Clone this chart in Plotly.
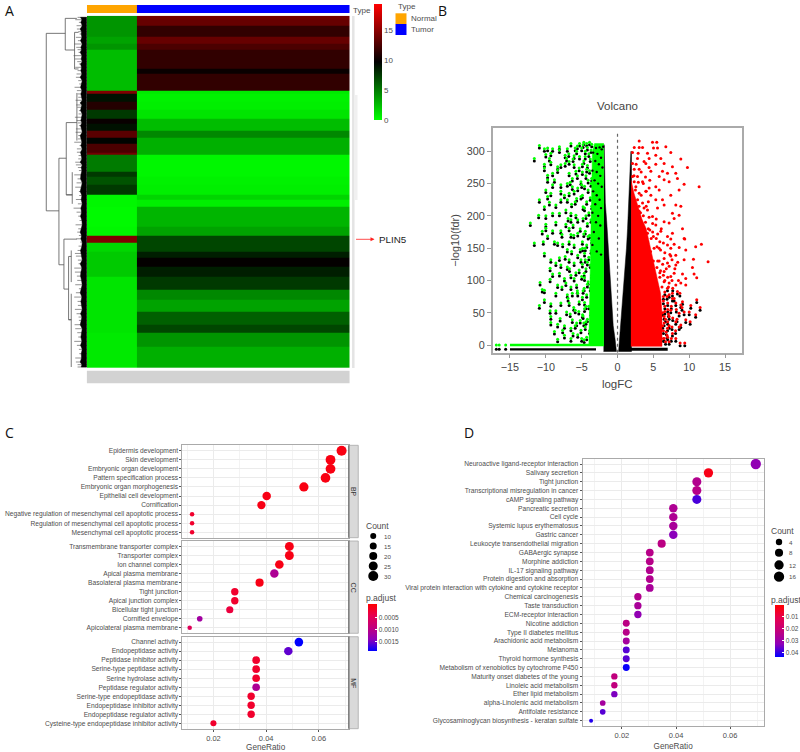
import plotly.graph_objects as go

FONT = "Liberation Sans"
W, H = 800, 752

# ---------- Panel A data: expression bands (row rank edges, mean level per group) ----------
row_edges = [0,13,31,63,83,103,128,158,173,198,225,233,258,283,308,323,345,365,383,411,418,468,483,508,538,553,573,633,660,681,708,728,753,783,823,853,888,928,953,993,1028,1058]
normal_level = [4,4,4,3.5,4,2.5,2.5,2.5,2.5,2.5,14.5,9,11,7.5,10,9,13,9.5,12.5,14,5,7.5,6.5,7.5,0.3,0.3,0.2,0.3,14.5,1.5,2,2,2,1,1,1,1,1,0.8,0.8,0.8]
tumor_level = [14,13.5,11.5,13.5,12.5,11.5,11.5,10,11.5,11.5,0.8,0.5,0.6,1,2.5,2.5,4.5,3,3,3,0.3,0.3,0.5,0.6,1.6,0.6,2.8,3.5,7,7,8.5,9.8,8.5,7.5,4.5,3.5,6,7,4,3,3]
sample_edges = [0, 50, 263]
heat_ticks = [0, 5, 10, 15]

# Dendrogram merges: (height_from, height_to, row_from, row_to)
dendro_h0 = [122,122,65,65,65,37,37,37,122,84,84,62,62,62,30,62,44,84,69,69,69,55,55,55,47,55,47]
dendro_h1 = [122,65,65,30,37,37,25,25,84,84,62,62,30,44,30,44,44,69,69,30,55,55,47,47,47,47,47]
dendro_r0 = [53,53,8,8,103,50,50,160,586,428,428,321,321,538,232,538,470,748,671,671,821,723,723,913,705,913,835]
dendro_r1 = [586,53,103,8,103,160,50,160,586,748,428,538,321,538,375,538,565,748,821,671,821,913,723,913,800,913,1055]
twig_rows = [5,12,20,30,40,48,55,65,75,85,95,102,110,120,130,138,145,155,165,175,185,195,205,215,225,235,245,254,262,268,275,285,295,305,315,322,330,340,350,360,370,380,390,400,410,420,430,440,448,456,465,478,490,502,515,528,540,552,565,578,590,602,615,628,640,650,660,670,680,692,705,714,722,734,745,758,770,782,795,808,820,832,845,858,870,882,895,905,915,928,940,952,965,978,990,1002,1015,1028,1040,1048,1055]
twig_heights = [28,35,24,31,30,26,22,33,27,38,32,28,25,40,36,29,24,35,28,31,33,26,23,37,30,28,26,34,21,32,29,24,25,36,31,27,24,33,34,26,27,38,22,30,30,25,26,35,33,27,24,38,28,31,35,24,23,33,27,40,31,26,22,34,26,29,24,32,20,25,28,36,33,27,25,38,36,30,29,35,24,33,38,28,27,36,31,25,24,37,35,29,26,38,30,24,23,35,33,28,28]
fan_heights = [19,15,18,14,20,16,17,15,19,14,18,16,20,15,17,14,19,16,18,15,20,14,17,19,15,18,16,14,20,15,17,19,14,16,18,15,19,16,14,20,17,15,18,14,19,16,15,20,14,17,15,18,19,14,16,20,15,17,14,18,16,19,15,14,17,20,16,18,14,15,19,17,16,14,20,15,18,19,16,14,17,20,15,18,16,14,19,15,17,20,14,16,18,15,19,14,17,16,20,15,17]

# ---------- Panel B data: volcano ----------
down_fc = [-10.9,-10.2,-9.75,-9.05,-8.1,-7.0,-6.5,-5.9,-11.6,-10.0,-9.3,-8.1,-7.3,-7.1,-6.05,-5.7,-9.5,-10.2,-9.3,-8.35,-7.9,-7.3,-6.75,-6.05,-10.2,-9.75,-9.05,-8.35,-6.75,-6.3,-5.8,-5.35,-9.75,-8.8,-9.05,-7.9,-7.0,-6.3,-5.55,-5.1,-10.0,-9.75,-9.3,-7.9,-7.4,-6.75,-6.05,-10.9,-9.5,-8.6,-7.9,-7.0,-5.7,-5.1,-10.2,-11.0,-10.0,-9.05,-8.1,-7.2,-6.5,-5.8,-12.16,-10.0,-8.6,-7.2,-6.5,-5.55,-10.0,-10.5,-9.05,-7.9,-6.75,-9.75,-7.75,-6.5,-5.55,
-11.6,-10.35,-8.8,-8.35,-7.65,-6.75,-6.05,-10.2,-9.3,-8.1,-7.3,-6.75,-5.55,-4.87,-9.4,-8.6,-7.9,-7.0,-6.05,-5.1,-9.05,-8.1,-6.5,-5.35,-9.4,-7.4,-6.05,-4.65,-10.8,-8.35,-7.2,-5.7,-10.5,-10.2,-7.75,-6.5,-4.65,-8.6,-7.0,-5.55,-10.2,-10.9,-9.3,-7.9,-6.75,-5.35,-9.4,-8.6,-7.1,-5.9,-4.4,-9.3,-8.0,-6.3,-4.87,-9.3,-8.35,-7.4,-5.7,-4.4,-8.8,-7.65,-6.5,-5.1,-8.35,-7.4,-5.55,-4.65,-6.5,
-4.8,-4.3,-3.9,-3.6,-4.5,-4.0,-3.7,-4.7,-4.2,-3.8,-4.9,-4.4,-3.9,-3.6,-4.6,-4.1,-3.7,-4.9,-4.3,-3.8,-4.6,-4.0,-3.6,-4.8,-4.2,-3.7,-4.5,-3.9,-4.9,-4.3,-3.6,-4.6,-4.0,-3.7,-4.9,-4.4,-3.8,-4.6,-4.1,-3.6,-4.8,-4.3,-3.8,-4.6,-4.0,-3.6,-4.8,-4.2,-3.7,-4.5,-3.9,-3.5,-4.3,-3.7,
-6.8,-6.2,-5.3,-4.9,-5.6,-6.6,-5.0,-5.9,-6.4,-4.8,-6.9,-6.2,-5.2,-4.7,-6.1,-7.0,-6.4,-5.2,-4.5,-6.7,-5.8,-5.0,-6.3,-5.6,-4.9,-6.9,-6.1,-5.4,-4.6,-6.6,-5.9,-5.2,-4.7,-6.2,-5.0,-4.2,-4.5,-4.2,-4.1,-4.4,-4.1,-4.3,-4.5,-4.2,-5.0,-5.3,-5.6,-4.7]
down_fdr = [309,304,305,304,307,304,312,305,289,295,297,302,294,289,293,300,289,280,283,276,279,281,284,279,274,263,266,271,266,258,269,274,256,256,248,248,250,245,243,253,240,230,235,238,232,235,238,225,221,217,225,225,227,230,214,201,200,204,204,209,204,201,189,187,190,187,194,194,181,176,177,177,181,169,171,171,173,
158,160,160,158,156,160,155,142,132,135,137,132,139,150,119,127,124,121,127,132,110,111,108,116,102,103,103,111,97,93,96,93,86,85,90,90,88,80,78,80,70,61,64,65,65,67,53,53,51,54,60,44,41,39,47,35,32,30,34,36,21,23,26,23,9,15,16,8,10,
310,312,314,311,300,296,302,285,278,288,268,262,270,258,246,240,250,232,222,228,212,205,215,196,188,194,176,170,160,155,162,142,136,146,125,118,124,104,98,108,84,78,88,66,60,70,45,40,50,28,22,32,12,8,
296,288,292,280,262,252,248,222,218,214,196,186,180,172,170,148,145,148,132,118,112,106,80,84,74,72,58,52,56,48,30,38,34,18,10,94,150,128,168,200,255,272,292,306,305,312,308,314]
speck_fc = [-3.0,-2.5,-2.2,-2.0,-3.4,-2.8,-2.3,-3.1,-2.6,-2.1,-3.5,-2.9,-2.4,-3.2,-2.7,-2.2,-3.4,-2.9,-2.5,-3.1,-2.3,-3.5,-2.7,-3.0,-2.4,-3.3,-2.6,-3.5,-2.9,-2.3]
speck_fdr = [305,306,303,307,298,296,290,285,280,275,270,268,262,255,250,245,238,232,225,218,212,205,200,190,185,175,165,155,145,140]
up_fc = [3.02,4.88,5.48,2.33,3.02,3.49,5.02,5.58,6.74,2.09,2.88,4.18,5.34,7.43,2.79,4.41,6.04,8.83,2.09,3.95,5.34,6.5,9.75,7.66,2.33,3.02,4.65,6.27,6.97,2.09,2.79,5.81,8.13,8.36,2.33,3.49,6.5,9.29,11.38,2.56,4.41,5.34,7.2,8.59,3.02,3.95,5.81,7.43,2.09,4.65,5.34,6.27,2.33,3.49,6.5,8.13,8.83,3.02,4.18,5.58,7.66,8.59,2.56,4.88,6.5,7.9,9.06,3.49,5.34,7.2,9.29,6.04,7.66,4.18,2.33,6.97,
9.38,11.7,10.9,8.6,7.9,7.43,6.97,9.52,7.43,12.63,10.59,8.13,9.29,7.43,6.5,10.45,8.13,6.97,9.06,10.68,11.05,7.9,6.5,9.52,7.43,8.83,8.13,9.52,7.2,11.05,9.06,8.36,7.66,6.97,10.22,8.83,11.52,8.13,7.66,10.0,9.29,10.9,8.59,7.43,10.13,9.52,8.83,8.13,7.2,9.38,8.73,8.13,7.66,6.97,6.5,6.5,7.2,
5.0,5.5,4.6,4.2,3.8,3.2,2.8,5.9,6.2,6.4,6.6,6.3,6.7,6.3,6.8,6.4,5.6,6.0,5.1,4.7,4.3,6.6,6.9,7.0,7.2,7.0,5.8,5.4,4.9,3.6,3.0,4.0,
7.3,6.6,6.0,5.5,5.9,6.4,5.0,5.6,6.1,4.5,4.9,5.4,3.9,4.4,3.2,3.7,4.3,2.8,3.3,4.0,2.5,2.9,3.6,4.5,2.3,3.3,3.9,2.6,3.7,4.4,
6.3,6.8,7.2,5.8,6.4,7.0,7.6,5.9,6.5,7.1,7.7,6.6,7.2,7.9,6.4,7.0,7.5,8.2,6.6,7.1,7.7,8.3,6.5,7.0,7.6,8.1,6.4,6.9,7.5,6.7,8.6,9.0,8.7,8.5,8.0,7.6,8.4]
up_fdr = [316,314,314,306,306,306,305,305,307,298,297,297,294,298,289,289,289,288,281,281,280,281,275,276,272,272,269,269,266,261,261,261,266,258,253,253,256,249,245,245,243,245,253,240,235,238,240,232,230,232,225,225,217,220,217,217,215,207,209,212,204,201,199,199,191,196,180,186,186,189,165,176,173,173,181,168,
164,156,152,151,156,164,155,147,150,129,133,139,132,138,134,120,124,127,110,110,104,111,114,103,106,96,93,93,96,70,67,83,80,88,61,62,58,65,72,51,51,47,49,54,36,39,31,36,44,3,3,10,18,26,34,10,5,
130,120,145,160,175,185,200,105,90,75,60,50,40,30,20,10,130,115,150,165,180,100,75,55,30,12,150,165,175,200,215,215,
140,143,147,152,160,158,168,172,180,178,188,195,190,198,205,212,222,225,232,238,240,252,250,255,262,268,260,280,284,275,
125,118,122,130,108,105,100,112,98,90,88,82,78,72,68,65,60,55,52,48,42,40,44,36,28,22,22,15,10,5,28,58,80,100,118,132,128]
# outlines of the zones too dense to separate points
down_zone_fc = [-1.9,-4.0,-3.9,-3.8,-3.7,-3.5,-3.2,-1.9]
down_zone_fdr = [0,0,60,120,200,300,312,312]
up_zone_fc = [1.86,6.2,6.2,6.0,5.6,5.2,4.8,4.4,4.0,3.4,2.8,2.3,1.9]
up_zone_fdr = [-2,-2,50,80,100,120,145,165,180,195,215,235,255]
ns_left_fc = [-1.95,-1.85,-1.8,-1.75,-1.7,-1.5,-1.35,-1.15,-1.0,-0.8,-0.6,-0.35,-0.15,-1.95]
ns_left_fdr = [310,310,280,250,220,190,160,125,90,55,30,10,-10,-10]
ns_right_fc = [1.86,1.8,1.7,1.55,1.4,1.25,1.0,0.7,0.5,0.3,0.15,1.95,1.95]
ns_right_fdr = [300,280,250,220,180,150,110,70,40,10,-10,-10,300]
floor_down_fc = [-16.9,-16.5,-15.6]
floor_ns_y = -6.7
floor_sig_y = 0
floor_span_down = [-15, -1.9]
floor_span_ns = [-15, -3]
floor_span_up = [1.86, 7]

# ---------- Panel C data ----------
bp_terms = ["Epidermis development","Skin development","Embryonic organ development","Pattern specification process","Embryonic organ morphogenesis","Epithelial cell development","Cornification","Negative regulation of mesenchymal cell apoptotic process","Regulation of mesenchymal cell apoptotic process","Mesenchymal cell apoptotic process"]
bp_ratio = [0.0686,0.0644,0.0644,0.0625,0.0543,0.0402,0.0382,0.0119,0.0119,0.0119]
bp_count = [30,28,28,27,24,18,17,5,5,5]
bp_padj = [0.00003,0.00003,0.00003,0.00003,0.00003,0.00005,0.00005,0.0002,0.0002,0.0002]
cc_terms = ["Transmembrane transporter complex","Transporter complex","Ion channel complex","Apical plasma membrane","Basolateral plasma membrane","Tight junction","Apical junction complex","Bicellular tight junction","Cornified envelope","Apicolateral plasma membrane"]
cc_ratio = [0.0488,0.0488,0.045,0.0431,0.0375,0.0281,0.0281,0.0262,0.0148,0.011]
cc_count = [21,21,19,18,16,12,12,11,6,5]
cc_padj = [0.00005,0.00005,0.00005,0.0011,0.00005,0.0002,0.0002,0.0003,0.0012,0.0005]
mf_terms = ["Channel activity","Endopeptidase activity","Peptidase inhibitor activity","Serine-type peptidase activity","Serine hydrolase activity","Peptidase regulator activity","Serine-type endopeptidase activity","Endopeptidase inhibitor activity","Endopeptidase regulator activity","Cysteine-type endopeptidase inhibitor activity"]
mf_ratio = [0.0524,0.0484,0.0362,0.0362,0.0362,0.0362,0.0343,0.0343,0.0343,0.02]
mf_count = [19,18,13,13,13,13,12,12,12,7]
mf_padj = [0.00188,0.00155,0.0002,0.0002,0.0002,0.0011,0.0002,0.0002,0.0002,0.0002]
c_count_legend = [10,15,20,25,30]
c_padj_ticks = [0.0005,0.0010,0.0015]
c_padj_labels = ["0.0005","0.0010","0.0015"]

# ---------- Panel D data ----------
kegg_terms = ["Neuroactive ligand-receptor interaction","Salivary secretion","Tight junction","Transcriptional misregulation in cancer","cAMP signaling pathway","Pancreatic secretion","Cell cycle","Systemic lupus erythematosus","Gastric cancer","Leukocyte transendothelial migration","GABAergic synapse","Morphine addiction","IL-17 signaling pathway","Protein digestion and absorption","Viral protein interaction with cytokine and cytokine receptor","Chemical carcinogenesis","Taste transduction","ECM-receptor interaction","Nicotine addiction","Type II diabetes mellitus","Arachidonic acid metabolism","Melanoma","Thyroid hormone synthesis","Metabolism of xenobiotics by cytochrome P450","Maturity onset diabetes of the young","Linoleic acid metabolism","Ether lipid metabolism","alpha-Linolenic acid metabolism","Antifolate resistance","Glycosaminoglycan biosynthesis - keratan sulfate"]
kegg_ratio = [0.0695,0.052,0.0477,0.0477,0.0477,0.039,0.039,0.039,0.039,0.0347,0.0303,0.0303,0.0303,0.0303,0.0303,0.0259,0.0259,0.0259,0.0216,0.0216,0.0216,0.0216,0.0216,0.0216,0.0172,0.0172,0.0172,0.0129,0.0129,0.0086]
kegg_count = [16,12,11,11,11,9,9,9,9,8,7,7,7,7,7,6,6,6,5,5,5,5,5,5,4,4,4,3,3,2]
kegg_padj = [0.032,0.003,0.025,0.024,0.038,0.026,0.026,0.027,0.033,0.023,0.024,0.024,0.025,0.025,0.027,0.025,0.027,0.032,0.023,0.024,0.028,0.037,0.037,0.043,0.022,0.022,0.034,0.028,0.037,0.041]
d_count_legend = [4,8,12,16]
d_padj_ticks = [0.01,0.02,0.03,0.04]
d_padj_labels = ["0.01","0.02","0.03","0.04"]

# ---------- Helpers ----------
def dx(a, b): return [a / W, b / W]
def dy(top, bot): return [1 - bot / H, 1 - top / H]
def px(x): return x / W
def py(y): return 1 - y / H
def neg(v): return [-a for a in v]

TXT = "#4d4d4d"
# colour bars run small-at-top in the reference, so p.adjust is drawn on a negated scale
BLUE_RED = [[0,"#0000ff"],[0.25,"#8f00b8"],[0.5,"#c1007c"],[0.75,"#e6004f"],[1,"#ff0000"]]
annotations, shapes = [], []

def label(text, x, y, size, xanchor="left", color=TXT, angle=0, font=FONT):
    annotations.append(dict(text=text, x=px(x), y=py(y), xref="paper", yref="paper", showarrow=False,
                            xanchor=xanchor, yanchor="middle", textangle=angle,
                            font=dict(family=font, size=size, color=color)))

def rect(x0, y0, x1, y1, fill, line=None, w=0, layer="above"):
    shapes.append(dict(type="rect", xref="paper", yref="paper", x0=px(x0), x1=px(x1), y0=py(y0), y1=py(y1),
                       fillcolor=fill, line=dict(color=line or fill, width=w), layer=layer))

def hline(x0, y0, x1, y1, color, w):
    shapes.append(dict(type="line", xref="paper", yref="paper", x0=px(x0), x1=px(x1), y0=py(y0), y1=py(y1),
                       line=dict(color=color, width=w), layer="above"))

def dot(x, y, d):
    shapes.append(dict(type="circle", xref="paper", yref="paper", xsizemode="pixel", ysizemode="pixel",
                       xanchor=px(x), yanchor=py(y), x0=-d/2, x1=d/2, y0=-d/2, y1=d/2,
                       fillcolor="black", line=dict(width=0), layer="above"))

def size_c(c): return 4.5 + 5.5 * ((c - 5) / 25) ** 0.5
def size_d(c): return 4.0 + 6.3 * ((c - 2) / 14) ** 0.5

fig = go.Figure()

# ---------- Panel A ----------
fig.add_trace(go.Heatmap(
    x=sample_edges, y=row_edges, z=[[n, t] for n, t in zip(normal_level, tumor_level)],
    xaxis="x", yaxis="y", zmin=0, zmax=19.3,
    colorscale=[[0,"#00ff00"],[0.5,"#000000"],[1,"#ff0000"]],
    colorbar=dict(x=px(374), xanchor="left", xpad=0, y=py(4.3), yanchor="top", ypad=0,
                  lenmode="pixels", len=116, thickness=8, thicknessmode="pixels", outlinewidth=0,
                  tickvals=heat_ticks, ticks="", tickfont=dict(family=FONT, size=8, color=TXT)),
    hoverinfo="skip"))
fig.add_trace(go.Heatmap(x=sample_edges, y=[0, 1], z=[[0, 1]], xaxis="x2", yaxis="y2", showscale=False,
                         colorscale=[[0,"#FFA500"],[1,"#0000FF"]], hoverinfo="skip"))

fan_x, fan_y = [], []
for r, h in zip(twig_rows, twig_heights):
    fan_x += [0, h, None]; fan_y += [r, r, None]
fig.add_trace(go.Scatter(x=fan_x, y=fan_y, mode="lines", line=dict(color="#666666", width=0.7),
                         xaxis="x3", yaxis="y3", hoverinfo="skip", showlegend=False))
fig.add_trace(go.Scatter(x=[0] + fan_heights + [0], y=[twig_rows[0]] + twig_rows + [twig_rows[-1]],
                         mode="lines", fill="toself", fillcolor="black", line=dict(color="black", width=0.5),
                         xaxis="x3", yaxis="y3", hoverinfo="skip", showlegend=False))
seg_x, seg_y = [], []
for h0, h1, r0, r1 in zip(dendro_h0, dendro_h1, dendro_r0, dendro_r1):
    seg_x += [h0, h1, None]; seg_y += [r0, r1, None]
fig.add_trace(go.Scatter(x=seg_x, y=seg_y, mode="lines", line=dict(color="#555555", width=0.8),
                         xaxis="x3", yaxis="y3", hoverinfo="skip", showlegend=False))

# ---------- Panel B ----------
def poly(x, y, color):
    fig.add_trace(go.Scatter(x=x, y=y, mode="lines", fill="toself", fillcolor=color, line=dict(width=0.5, color=color),
                             xaxis="x4", yaxis="y4", hoverinfo="skip", showlegend=False))
def pts(x, y, color, s=3.0):
    fig.add_trace(go.Scatter(x=x, y=y, mode="markers", marker=dict(color=color, size=s, line=dict(width=0)),
                             xaxis="x4", yaxis="y4", hoverinfo="skip", showlegend=False))
def stroke(x, y, color, w, dash="solid"):
    fig.add_trace(go.Scatter(x=x, y=y, mode="lines", line=dict(color=color, width=w, dash=dash),
                             xaxis="x4", yaxis="y4", hoverinfo="skip", showlegend=False))

stroke([0, 0], [-12, 330], "#666666", 1.2, "3px,3px")
poly(ns_left_fc, ns_left_fdr, "black")
poly(ns_right_fc, ns_right_fdr, "black")
stroke(floor_span_ns, [floor_ns_y, floor_ns_y], "black", 2.2)
stroke(floor_span_up, [floor_ns_y, floor_ns_y], "black", 3)
pts(floor_down_fc, [floor_ns_y] * 3, "black")
pts(floor_down_fc, [floor_sig_y] * 3, "#00ff00")
pts(down_fc, [v - 4 for v in down_fdr], "black")
poly(down_zone_fc, down_zone_fdr, "#00ff00")
stroke(floor_span_down, [floor_sig_y, floor_sig_y], "#00ff00", 2.5)
pts(down_fc, down_fdr, "#00ff00")
pts(speck_fc, speck_fdr, "black", 2.4)
low_fc = [a for a, b in zip(up_fc, up_fdr) if b < 90]
low_fdr = [b - 4 for b in up_fdr if b < 90]
pts(low_fc, low_fdr, "black")
poly(up_zone_fc, up_zone_fdr, "#ff0000")
pts(up_fc, up_fdr, "#ff0000")

# ---------- Panel C ----------
for i, (terms, ratio, count, padj) in enumerate([(bp_terms,bp_ratio,bp_count,bp_padj),(cc_terms,cc_ratio,cc_count,cc_padj),(mf_terms,mf_ratio,mf_count,mf_padj)]):
    n = i + 5
    fig.add_trace(go.Scatter(x=ratio, y=terms, mode="markers", xaxis=f"x{n}", yaxis=f"y{n}",
                             marker=dict(color=neg(padj), coloraxis="coloraxis", opacity=1, size=[size_c(c) for c in count], line=dict(width=0)),
                             hoverinfo="skip", showlegend=False))

# ---------- Panel D ----------
fig.add_trace(go.Scatter(x=kegg_ratio, y=kegg_terms, mode="markers", xaxis="x8", yaxis="y8",
                         marker=dict(color=neg(kegg_padj), coloraxis="coloraxis2", opacity=1, size=[size_d(c) for c in kegg_count], line=dict(width=0)),
                         hoverinfo="skip", showlegend=False))

# ---------- Layout ----------
hidden = dict(showgrid=False, zeroline=False, showticklabels=False, ticks="", showline=False)
layout = dict(width=W, height=H, margin=dict(l=0, r=0, t=0, b=0), paper_bgcolor="white", plot_bgcolor="white", showlegend=False,
    xaxis=dict(domain=dx(87, 350), range=[0, 263], anchor="y", **hidden),
    yaxis=dict(domain=dy(15.7, 368), range=[1058, 0], anchor="x", **hidden),
    xaxis2=dict(domain=dx(87, 350), range=[0, 263], anchor="y2", **hidden),
    yaxis2=dict(domain=dy(5, 13), range=[0, 1], anchor="x2", **hidden),
    xaxis3=dict(domain=dx(44, 87), range=[129, 0], anchor="y3", **hidden),
    yaxis3=dict(domain=dy(15.7, 368), range=[1058, 0], anchor="x3", **hidden),
    xaxis4=dict(domain=dx(493.3, 742.7), range=[-17.41, 17.33], anchor="y4", tickvals=[-15,-10,-5,0,5,10,15],
                ticktext=["\u221215","\u221210","\u22125","0","5","10","15"], ticks="outside", ticklen=4, tickcolor="#999999",
                showgrid=False, zeroline=False, showline=True, mirror=True, linecolor="#aaaaaa", linewidth=1.5,
                tickfont=dict(family=FONT, size=10.8, color="#444444"),
                title=dict(text="logFC", standoff=8, font=dict(family=FONT, size=11.5, color="#444444"))),
    yaxis4=dict(domain=dy(128.3, 352.7), range=[-11.9, 335.6], anchor="x4", tickvals=[0,50,100,150,200,250,300], ticks="outside",
                ticklen=4, tickcolor="#999999", showgrid=False, zeroline=False, showline=True, mirror=True, linecolor="#aaaaaa", linewidth=1.5,
                tickfont=dict(family=FONT, size=10.8, color="#444444"),
                title=dict(text="\u2212log10(fdr)", standoff=5, font=dict(family=FONT, size=10.8, color="#444444"))),
    coloraxis=dict(cmin=-0.00188, cmax=0.00008, colorscale=BLUE_RED,
        colorbar=dict(x=px(368), xanchor="left", xpad=0, y=py(604), yanchor="top", ypad=0, lenmode="pixels", len=47, thickness=9,
                      outlinewidth=0, tickvals=neg(c_padj_ticks), ticktext=c_padj_labels, ticks="inside", ticklen=2,
                      tickcolor="white", tickfont=dict(family=FONT, size=6.5, color=TXT))),
    coloraxis2=dict(cmin=-0.0436, cmax=0, colorscale=BLUE_RED,
        colorbar=dict(x=px(774.7), xanchor="left", xpad=0, y=py(605), yanchor="top", ypad=0, lenmode="pixels", len=52, thickness=9,
                      outlinewidth=0, tickvals=neg(d_padj_ticks), ticktext=d_padj_labels, ticks="inside", ticklen=2,
                      tickcolor="white", tickfont=dict(family=FONT, size=6.5, color=TXT))),
)

def dot_axes(xn, yn, xdom, ydom, xrange, terms, title=None, labels=True):
    layout[f"xaxis{xn}"] = dict(domain=xdom, range=xrange, anchor=f"y{yn}", tickvals=[0.02,0.04,0.06], ticktext=["0.02","0.04","0.06"],
        showticklabels=labels, ticks="outside" if labels else "", ticklen=2, tickcolor="#555555", zeroline=False,
        showgrid=True, gridcolor="#ebebeb", gridwidth=0.8,
        minor=dict(tickvals=[0.01,0.03,0.05,0.07], showgrid=True, gridcolor="#f3f3f3", gridwidth=0.5),
        showline=True, mirror=True, linecolor="#aaaaaa", linewidth=1,
        tickfont=dict(family=FONT, size=7.5, color=TXT),
        title=dict(text=title, standoff=4, font=dict(family=FONT, size=8.2, color=TXT)) if title else None)
    layout[f"yaxis{yn}"] = dict(domain=ydom, range=[len(terms) - 0.4, -0.6], anchor=f"x{xn}", type="category", categoryorder="array", categoryarray=terms,
        tickmode="array", tickvals=terms, ticktext=terms, ticks="outside", ticklen=2, tickcolor="#555555", zeroline=False,
        showgrid=True, gridcolor="#ebebeb", gridwidth=0.8,
        showline=True, mirror=True, linecolor="#aaaaaa", linewidth=1,
        tickfont=dict(family=FONT, size=6.65, color=TXT))

c_range = [0.00826, 0.07136]
dot_axes(5, 5, dx(182.7, 349.3), dy(445.3, 537.7), c_range, bp_terms, labels=False)
dot_axes(6, 6, dx(182.7, 349.3), dy(541, 633.3), c_range, cc_terms, labels=False)
dot_axes(7, 7, dx(182.7, 349.3), dy(636.7, 728.7), c_range, mf_terms, title="GeneRatio")
dot_axes(8, 8, dx(583.3, 764.7), dy(458.7, 726), [0.00545, 0.07244], kegg_terms, title="GeneRatio")

# Panel C strips
for top, bot, name in [(445.3,537.7,"BP"),(541,633.3,"CC"),(636.7,728.7,"MF")]:
    rect(349.3, top, 358.7, bot, "#d9d9d9", "#aaaaaa", 0.8)
    hline(349.3, top, 349.3, bot, "#555555", 1)
    label(name, 354, (top + bot) / 2, 7, xanchor="center", color="#333333", angle=90)

# Panel A decorations
rect(87, 370.7, 350, 383.3, "#d2d2d2", layer="above")
rect(352.5, 16, 355, 368, "#e4e4e4")
rect(355, 95, 358, 200, "#f0f0f0")
label("Type", 351, 10, 8.1)
label("Type", 396, 7, 8.1)
rect(396, 13.3, 407, 24, "#FFA500")
rect(396, 24, 407, 35, "#0000FF")
label("Normal", 409.5, 19, 8)
label("Tumor", 409.5, 29, 8)
label("PLIN5", 377, 239.3, 9.8, color="#222222")
annotations.append(dict(x=px(375), y=py(239.3), xref="paper", yref="paper", text="", ax=-20, ay=0, showarrow=True,
                        arrowhead=2, arrowsize=1, arrowwidth=0.8, arrowcolor="#ff2020"))

# Panel B title
label("Volcano", 618.5, 105.7, 11.5, xanchor="center", color="#444444")

# Panel letters
for letter, x, y in [("A",3,10),("B",437,10),("C",3,432),("D",463,432)]:
    label(letter, x, y, 14, color="#111111", font="Open Sans")

# Panel C legends
label("Count", 364.7, 526, 8.5)
for c, y in zip(c_count_legend, [536,546,556,566,576]):
    dot(373.7, y, 6 + (c - 10) / 5)
    label(str(c), 382.7, y, 6.2)
label("p.adjust", 364.7, 598, 8.5)

# Panel D legends
label("Count", 770, 531, 8.5)
for c, y in zip(d_count_legend, [542,552.7,565,576.7]):
    dot(780, y, size_d(c))
    label(str(c), 788, y, 6.2)
label("p.adjust", 770, 600, 8.5)

layout["annotations"] = annotations
layout["shapes"] = shapes
fig.update_layout(**layout)
fig.write_html("out.html", config=dict(displayModeBar=False),
               post_script="document.body.style.margin='0';document.body.style.overflow='hidden';")
